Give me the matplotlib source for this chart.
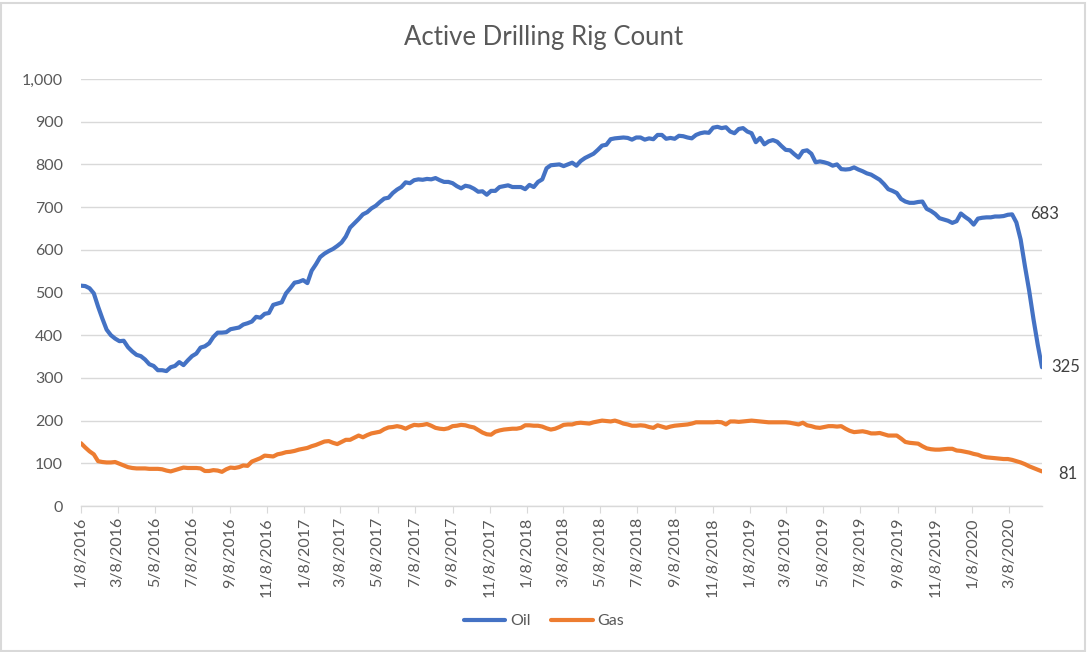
import pandas as pd
import matplotlib
matplotlib.use("Agg")
import matplotlib.pyplot as plt
from matplotlib.patches import Rectangle

#   weekly rig counts, Friday 1/8/2016 through 5/1/2020

START_DATE = "2016-01-08"

oil = [
	516, 515, 510, 498, 467, 439, 413, 400, 392, 386, 387, 372, 362, 354, 351, 343, 332,
	328, 318, 318, 316, 325, 328, 337, 330, 341, 351, 357, 371, 374, 381, 396, 406, 406,
	407, 414, 416, 418, 425, 428, 432, 443, 441, 450, 452, 471, 474, 477, 498, 510, 523, 525,
	529, 522, 551, 566, 583, 591, 597, 602, 609, 617, 631, 652, 662, 672, 683, 688, 697,
	703, 712, 720, 722, 733, 741, 747, 758, 756, 763, 765, 764, 766, 765, 768, 763, 759,
	759, 756, 749, 744, 750, 748, 743, 736, 737, 729, 738, 738, 747, 749, 751, 747, 747, 747,
	742, 752, 747, 759, 765, 791, 798, 799, 800, 796, 800, 804, 797, 808, 815, 820, 825,
	834, 844, 846, 859, 861, 862, 863, 862, 858, 863, 863, 858, 861, 859, 869, 869, 860, 862,
	860, 867, 866, 863, 861, 869, 873, 875, 874, 886, 888, 885, 887, 877, 873, 883, 885,
	877, 873, 852, 862, 847, 854, 857, 853, 843, 834, 833, 824, 816, 831, 833, 825, 805,
	807, 805, 802, 797, 800, 789, 788, 789, 793, 788, 784, 779, 776, 770, 764, 754, 742, 738,
	733, 719, 713, 710, 710, 712, 713, 696, 691, 684, 674, 671, 668, 663, 667, 685, 677,
	670, 659, 673, 675, 676, 676, 678, 678, 679, 682, 683, 664, 624, 562, 504, 438, 378, 325,
]

gas = [
	147, 137, 128, 121, 105, 103, 102, 102, 103, 99, 95, 91, 89, 88, 88, 88, 87,
	87, 87, 86, 83, 81, 84, 87, 90, 89, 89, 89, 88, 82, 82, 84, 83, 80,
	86, 90, 89, 91, 95, 94, 104, 108, 112, 118, 117, 116, 121, 123, 126, 127, 129, 132,
	134, 136, 140, 143, 147, 151, 152, 148, 145, 150, 155, 155, 160, 165, 161, 166, 170,
	172, 174, 180, 184, 185, 187, 185, 181, 186, 190, 189, 190, 192, 188, 183, 181, 180,
	182, 187, 188, 190, 189, 186, 184, 178, 172, 168, 167, 174, 177, 179, 180, 181, 181, 183,
	189, 189, 188, 188, 186, 182, 179, 181, 185, 190, 191, 191, 194, 195, 194, 193, 196,
	198, 200, 199, 198, 200, 197, 193, 191, 188, 188, 189, 188, 185, 183, 189, 186, 183,
	186, 188, 189, 190, 191, 193, 196, 196, 196, 196, 196, 197, 196, 191, 198, 198, 197,
	198, 199, 200, 199, 198, 197, 196, 196, 196, 196, 196, 195, 193, 191, 195, 189, 187,
	184, 183, 185, 187, 187, 186, 187, 181, 176, 173, 174, 175, 173, 170, 170, 171, 168, 165,
	165, 165, 158, 150, 148, 147, 146, 140, 135, 133, 132, 132, 133, 134, 134, 130, 129,
	127, 125, 122, 120, 116, 114, 113, 112, 111, 110, 110, 108, 105, 102, 98, 93, 89, 85, 81,
]

#   axis labels every two months, on the 8th
tick_dates = pd.date_range("2016-01-01", "2020-03-01", freq="2MS") + pd.Timedelta(days=7)

GREY = "#595959"
GRID = "#d9d9d9"


def main():
	dates = pd.date_range(START_DATE, periods=len(oil), freq="7D")
	df = pd.DataFrame({"Oil": oil, "Gas": gas}, index=dates)

	plt.rcParams["font.family"] = ["Lato", "DejaVu Sans"]

	fig = plt.figure(figsize=(10.88, 6.52), dpi=100)
	ax = fig.add_axes([81 / 1088, 1 - 506 / 652, 961 / 1088, 427 / 652])

	ax.plot(df.index, df["Oil"], color="#4472C4", lw=3, label="Oil",
		solid_joinstyle="round", solid_capstyle="round", zorder=3)
	ax.plot(df.index, df["Gas"], color="#ED7D31", lw=3, label="Gas",
		solid_joinstyle="round", solid_capstyle="round", zorder=3)

	ax.set_xlim(df.index[0], df.index[-1])
	ax.set_ylim(0, 1000)
	ax.set_yticks(range(0, 1001, 100))
	ax.set_yticklabels([f"{v:,}" for v in range(0, 1001, 100)])
	ax.set_xticks(tick_dates)
	ax.set_xticklabels([f"{d.month}/{d.day}/{d.year}" for d in tick_dates], rotation=90)

	ax.grid(axis="y", color=GRID, lw=1, zorder=0)
	for s in ["top", "right", "left"]:
		ax.spines[s].set_visible(False)
	ax.spines["bottom"].set_color(GRID)
	ax.spines["bottom"].set_linewidth(1)
	ax.tick_params(axis="y", length=0, pad=13, labelsize=11.5, labelcolor=GREY)
	ax.tick_params(axis="x", length=5, color=GRID, pad=3, labelsize=11.5, labelcolor=GREY)

	#   data labels
	peak = df.index[df.index.get_indexer([pd.Timestamp("2020-03-11")], method="nearest")[0]]
	ax.annotate(f"{df.loc[peak, 'Oil']}", (peak, df.loc[peak, "Oil"]), xytext=(13, 0),
		textcoords="offset points", ha="left", va="center", fontsize=12, color="#404040")
	ax.annotate(f"{oil[-1]}", (df.index[-1], oil[-1]), xytext=(7, 0),
		textcoords="offset points", ha="left", va="center", fontsize=12, color="#404040",
		annotation_clip=False)
	ax.annotate(f"{gas[-1]}", (df.index[-1], gas[-1]), xytext=(12, -2),
		textcoords="offset points", ha="left", va="center", fontsize=12, color="#404040",
		annotation_clip=False)

	fig.text(0.5, 1 - 37 / 652, "Active Drilling Rig Count", ha="center", va="center",
		fontsize=18.5, color=GREY)

	fig.legend(loc="center", bbox_to_anchor=(0.5, 1 - 621 / 652), ncol=2, frameon=False,
		fontsize=11.5, handlelength=2.6, handletextpad=0.3, columnspacing=1.3,
		labelcolor=GREY)

	fig.patches.append(Rectangle((0.001, 0.002), 0.996, 0.994, transform=fig.transFigure,
		fill=False, edgecolor=GRID, lw=1.5))

	fig.savefig("out.png", dpi=100)


if __name__ == "__main__":
	main()
